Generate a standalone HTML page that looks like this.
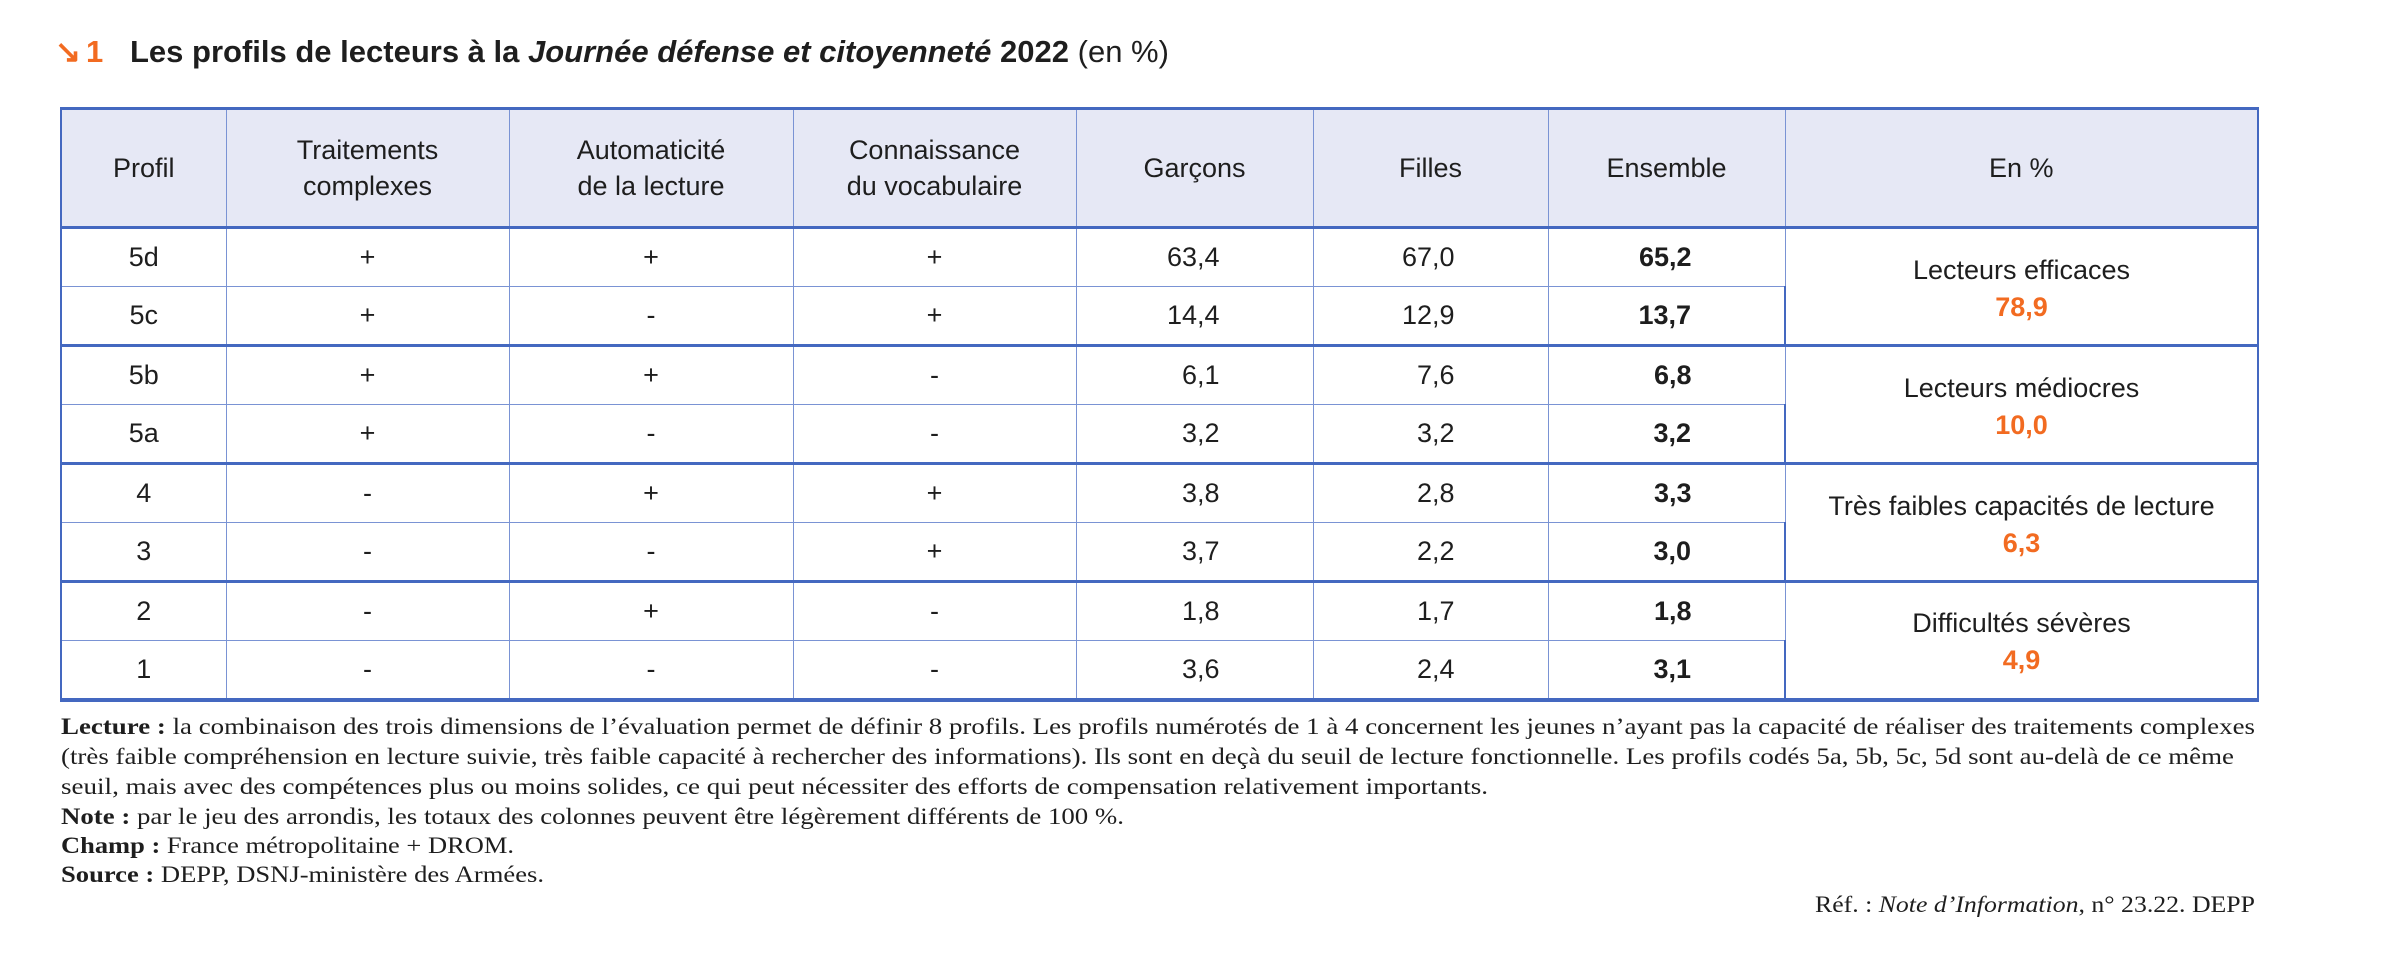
<!DOCTYPE html>
<html lang="fr"><head><meta charset="utf-8">
<style>
html,body{margin:0;padding:0;background:#fff;}
body{width:2397px;height:976px;position:relative;overflow:hidden;font-family:"Liberation Sans",sans-serif;color:#1e1e1e;}
.tt{position:absolute;top:34px;font-size:31px;white-space:nowrap;}
.or{color:#f26b21;font-weight:bold;}
table{position:absolute;left:60px;top:107px;border-collapse:collapse;table-layout:fixed;width:2197px;font-size:27px;}
td,th{border:1px solid #7a93d4;padding:0;text-align:center;vertical-align:middle;box-sizing:border-box;}
th{background:#e6e8f5;font-weight:normal;height:119px;line-height:36px;border-top:3px solid #4468c0;border-bottom:3px solid #4468c0;}
td{height:59px;}
tr.g td{border-top:3px solid #4468c0;}
tr.last td{border-bottom:4px solid #4468c0;}
td.n{text-align:right;padding-right:93px;}
td.b{font-weight:bold;}
td.grp{line-height:37px;padding-top:4px;border-bottom:3px solid #4468c0;border-left:1px solid #7a93d4;}
td.grp b{color:#f26b21;}
table tr > *:first-child{border-left:2px solid #4468c0;}
table tr > *:last-child{border-right:2px solid #4468c0;}
#notes{position:absolute;left:0;top:0;}
</style></head><body>
<span class="tt or" style="left:55px">↘</span>
<span class="tt or" style="left:86px">1</span>
<div class="tt" style="left:130px"><b>Les profils de lecteurs à la <i>Journée défense et citoyenneté</i> 2022</b> (en %)</div>
<table>
<colgroup><col style="width:165px"><col style="width:283px"><col style="width:284px"><col style="width:283px"><col style="width:237px"><col style="width:235px"><col style="width:237px"><col style="width:473px"></colgroup>
<tr><th>Profil</th><th>Traitements<br>complexes</th><th>Automaticité<br>de la lecture</th><th>Connaissance<br>du vocabulaire</th><th>Garçons</th><th>Filles</th><th>Ensemble</th><th>En %</th></tr>
<tr><td>5d</td><td>+</td><td>+</td><td>+</td><td class="n">63,4</td><td class="n">67,0</td><td class="n b">65,2</td><td class="grp" rowspan="2">Lecteurs efficaces<br><b>78,9</b></td></tr>
<tr><td>5c</td><td>+</td><td>-</td><td>+</td><td class="n">14,4</td><td class="n">12,9</td><td class="n b">13,7</td></tr>
<tr class="g"><td>5b</td><td>+</td><td>+</td><td>-</td><td class="n">6,1</td><td class="n">7,6</td><td class="n b">6,8</td><td class="grp" rowspan="2">Lecteurs médiocres<br><b>10,0</b></td></tr>
<tr><td>5a</td><td>+</td><td>-</td><td>-</td><td class="n">3,2</td><td class="n">3,2</td><td class="n b">3,2</td></tr>
<tr class="g"><td>4</td><td>-</td><td>+</td><td>+</td><td class="n">3,8</td><td class="n">2,8</td><td class="n b">3,3</td><td class="grp" rowspan="2">Très faibles capacités de lecture<br><b>6,3</b></td></tr>
<tr><td>3</td><td>-</td><td>-</td><td>+</td><td class="n">3,7</td><td class="n">2,2</td><td class="n b">3,0</td></tr>
<tr class="g"><td>2</td><td>-</td><td>+</td><td>-</td><td class="n">1,8</td><td class="n">1,7</td><td class="n b">1,8</td><td class="grp" rowspan="2" style="border-bottom:4px solid #4468c0">Difficultés sévères<br><b>4,9</b></td></tr>
<tr class="last"><td>1</td><td>-</td><td>-</td><td>-</td><td class="n">3,6</td><td class="n">2,4</td><td class="n b">3,1</td></tr>
</table>
<svg id="notes" width="2397" height="976" style="font-family:'Liberation Serif',serif;font-size:23px;fill:#1e1e1e">
<text x="61" y="734" textLength="2194" lengthAdjust="spacingAndGlyphs"><tspan font-weight="bold">Lecture :</tspan> la combinaison des trois dimensions de l’évaluation permet de définir 8 profils. Les profils numérotés de 1 à 4 concernent les jeunes n’ayant pas la capacité de réaliser des traitements complexes</text>
<text x="61" y="764" textLength="2173" lengthAdjust="spacingAndGlyphs">(très faible compréhension en lecture suivie, très faible capacité à rechercher des informations). Ils sont en deçà du seuil de lecture fonctionnelle. Les profils codés 5a, 5b, 5c, 5d sont au-delà de ce même</text>
<text x="61" y="794" textLength="1427" lengthAdjust="spacingAndGlyphs">seuil, mais avec des compétences plus ou moins solides, ce qui peut nécessiter des efforts de compensation relativement importants.</text>
<text x="61" y="824" textLength="1063" lengthAdjust="spacingAndGlyphs"><tspan font-weight="bold">Note :</tspan> par le jeu des arrondis, les totaux des colonnes peuvent être légèrement différents de 100 %.</text>
<text x="61" y="853" textLength="453" lengthAdjust="spacingAndGlyphs"><tspan font-weight="bold">Champ :</tspan> France métropolitaine + DROM.</text>
<text x="61" y="882" textLength="483" lengthAdjust="spacingAndGlyphs"><tspan font-weight="bold">Source :</tspan> DEPP, DSNJ-ministère des Armées.</text>
<text x="1815" y="912" textLength="440" lengthAdjust="spacingAndGlyphs">Réf. : <tspan font-style="italic">Note d’Information</tspan>, n° 23.22. DEPP</text>
</svg>
</body></html>
